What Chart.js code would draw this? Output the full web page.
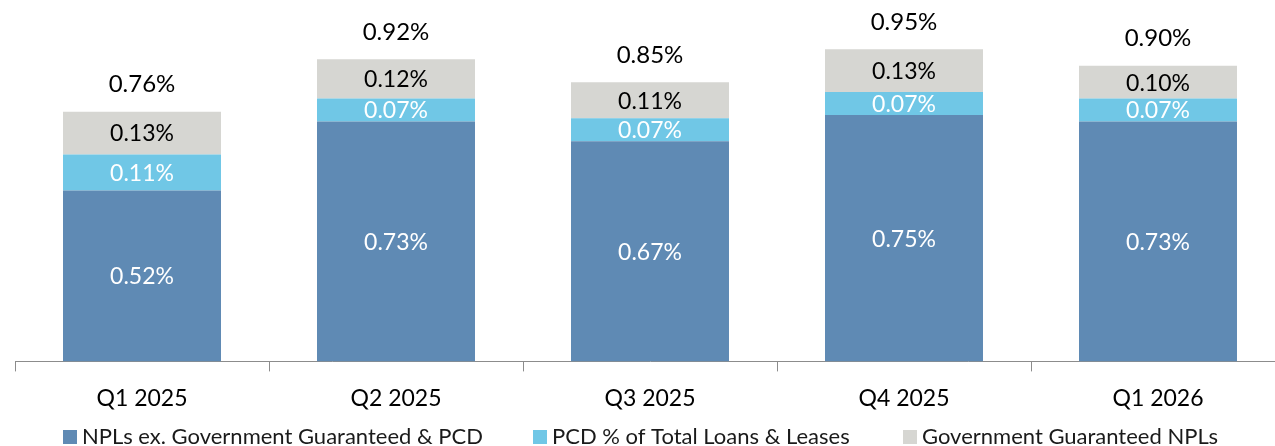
<!DOCTYPE html>
<html><head><meta charset="utf-8">
<script src="https://cdn.jsdelivr.net/npm/chart.js@4.4.1/dist/chart.umd.min.js"></script>
<style>
html,body{margin:0;padding:0;background:#fff;overflow:hidden}
#wrap{position:relative;width:1275px;height:446px;overflow:hidden;background:#fff}
canvas{position:absolute;left:0;top:0}
</style></head><body>
<div id="wrap"><canvas id="c" width="1290" height="446"></canvas></div>
<script>
const categories = ['Q1 2025', 'Q2 2025', 'Q3 2025', 'Q4 2025', 'Q1 2026'];
const nplsExGovPcd = [0.52, 0.73, 0.67, 0.75, 0.73];
const pcdPctOfLoans = [0.11, 0.07, 0.07, 0.07, 0.07];
const govGuaranteedNpls = [0.13, 0.12, 0.11, 0.13, 0.10];
const totalLabels = [0.76, 0.92, 0.85, 0.95, 0.90];
const seriesNames = ['NPLs ex. Government Guaranteed & PCD', 'PCD % of Total Loans & Leases', 'Government Guaranteed NPLs'];
const seriesColors = ['#5F8AB4', '#70C7E6', '#D6D6D2'];
const labelColors = ['#FFFFFF', '#FFFFFF', '#000000'];

const FONT = 'Lato, "Open Sans", sans-serif';
const fmt = v => v.toFixed(2) + '%';

const valueLabels = {
  id: 'valueLabels',
  afterDatasetsDraw(chart) {
    const ctx = chart.ctx;
    ctx.save();
    ctx.textAlign = 'center';
    ctx.textBaseline = 'middle';
    chart.data.datasets.forEach((ds, di) => {
      const meta = chart.getDatasetMeta(di);
      meta.data.forEach((el, i) => {
        const cy = (el.y + el.base) / 2;
        ctx.fillStyle = labelColors[di];
        ctx.font = '23px ' + FONT;
        ctx.fillText(fmt(ds.data[i]), el.x, cy + 1);
      });
    });
    const topMeta = chart.getDatasetMeta(chart.data.datasets.length - 1);
    topMeta.data.forEach((el, i) => {
      ctx.fillStyle = '#000000';
      ctx.font = '24px ' + FONT;
      ctx.fillText(fmt(totalLabels[i]), el.x, el.y - 27);
    });
    ctx.restore();
  }
};

const legendItemX = [63, 533, 903];
const customLegend = {
  id: 'customLegend',
  afterDraw(chart) {
    const ctx = chart.ctx;
    ctx.save();
    ctx.font = '22px ' + FONT;
    ctx.textBaseline = 'middle';
    ctx.textAlign = 'left';
    chart.data.datasets.forEach((ds, i) => {
      const x = legendItemX[i];
      ctx.fillStyle = ds.backgroundColor;
      ctx.fillRect(x, 430, 14, 14);
      ctx.fillStyle = '#1a1a1a';
      ctx.fillText(ds.label, x + 19, 437);
    });
    ctx.restore();
  }
};

new Chart(document.getElementById('c'), {
  type: 'bar',
  data: {
    labels: categories,
    datasets: [
      { label: seriesNames[0], data: nplsExGovPcd, backgroundColor: seriesColors[0] },
      { label: seriesNames[1], data: pcdPctOfLoans, backgroundColor: seriesColors[1] },
      { label: seriesNames[2], data: govGuaranteedNpls, backgroundColor: seriesColors[2] }
    ]
  },
  options: {
    responsive: false,
    animation: false,
    devicePixelRatio: 1,
    layout: { padding: { left: 15, right: 5, top: 0, bottom: 21 } },
    datasets: { bar: { categoryPercentage: 1, barPercentage: 0.622, borderWidth: 0 } },
    plugins: { legend: { display: false }, tooltip: { enabled: false } },
    scales: {
      x: {
        stacked: true,
        offset: true,
        grid: { display: true, drawOnChartArea: false, drawTicks: true, tickLength: 10, color: '#8C8C8C', offset: true },
        border: { display: true, color: '#8C8C8C', width: 1 },
        ticks: { color: '#000000', font: { family: FONT, size: 23 }, padding: 13 }
      },
      y: {
        stacked: true,
        display: false,
        min: 0,
        max: 1.1
      }
    }
  },
  plugins: [valueLabels, customLegend]
});
</script>
</body></html>
